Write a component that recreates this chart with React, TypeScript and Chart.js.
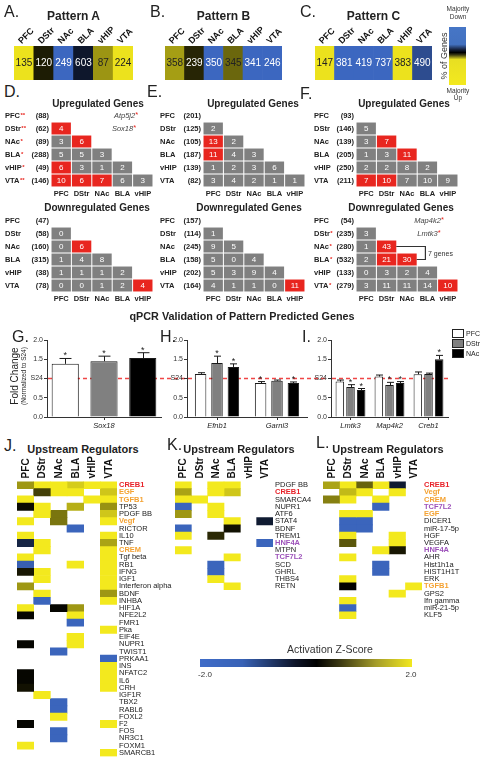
import React, { useEffect, useRef } from 'react';
import { Chart, registerables } from 'chart.js';

Chart.register(...registerables);
const FONT = "'Liberation Sans', Arimo, Arial, Helvetica, sans-serif";
Chart.defaults.font.family = FONT;

// ================= DATA =================
const REGIONS = ['PFC', 'DStr', 'NAc', 'BLA', 'vHIP', 'VTA'];
const PAIR_COLS = ['PFC', 'DStr', 'NAc', 'BLA', 'vHIP'];

// Pattern strips: number of genes and net direction (-1 majority down, +1 majority up)
const PATTERN_A_GENES = [135, 120, 249, 603, 87, 224];
const PATTERN_A_DIR = [0.97, 0.12, -0.97, -0.22, 0.64, 0.97];
const PATTERN_B_GENES = [358, 239, 350, 345, 341, 246];
const PATTERN_B_DIR = [0.68, 0.16, -0.97, 0.44, -0.97, -0.97];
const PATTERN_C_GENES = [147, 381, 419, 737, 383, 490];
const PATTERN_C_DIR = [0.97, -0.97, -0.97, -0.97, 0.97, -0.72];

// Pairwise overlaps (lower triangle; row k = region k+1 vs PFC..)
const NO_STARS = [0, 0, 0, 0, 0, 0];
const D_UP_TOTAL = [88, 62, 89, 288, 49, 146];
const D_UP_STARS = [2, 2, 1, 1, 1, 2];
const D_UP_SHARED = [[4], [3, 6], [5, 5, 3], [6, 3, 1, 2], [10, 6, 7, 6, 3]];
const D_UP_SIG = [[1], [0, 1], [0, 0, 0], [1, 0, 0, 0], [1, 1, 1, 0, 0]];
const D_DOWN_TOTAL = [47, 58, 160, 315, 38, 78];
const D_DOWN_SHARED = [[0], [0, 6], [1, 4, 8], [1, 1, 1, 2], [0, 0, 1, 2, 4]];
const D_DOWN_SIG = [[0], [0, 1], [0, 0, 0], [0, 0, 0, 0], [0, 0, 0, 0, 1]];

const E_UP_TOTAL = [201, 125, 105, 187, 139, 82];
const E_UP_SHARED = [[2], [13, 2], [11, 4, 3], [1, 2, 3, 6], [3, 4, 2, 1, 1]];
const E_UP_SIG = [[0], [1, 0], [1, 0, 0], [0, 0, 0, 0], [0, 0, 0, 0, 0]];
const E_DOWN_TOTAL = [157, 114, 245, 158, 202, 164];
const E_DOWN_SHARED = [[1], [9, 5], [5, 0, 4], [5, 3, 9, 4], [4, 1, 1, 0, 11]];
const E_DOWN_SIG = [[0], [0, 0], [0, 0, 0], [0, 0, 0, 0], [0, 0, 0, 0, 1]];

const F_UP_TOTAL = [93, 146, 139, 205, 250, 211];
const F_UP_SHARED = [[5], [3, 7], [1, 3, 11], [2, 2, 8, 2], [7, 10, 7, 10, 9]];
const F_UP_SIG = [[0], [0, 1], [0, 0, 1], [0, 0, 0, 0], [1, 1, 0, 0, 0]];
const F_DOWN_TOTAL = [54, 235, 280, 532, 133, 279];
const F_DOWN_STARS = [0, 1, 1, 1, 0, 1];
const F_DOWN_SHARED = [[3], [1, 43], [2, 21, 30], [0, 3, 2, 4], [3, 11, 11, 14, 10]];
const F_DOWN_SIG = [[0], [0, 1], [0, 1, 1], [0, 0, 0, 0], [0, 0, 0, 0, 1]];

// qPCR fold changes (mean, SEM, significance) per region [PFC, DStr, NAc]
const QPCR_REGIONS = ['PFC', 'DStr', 'NAc'];
const G_GENES = ['Sox18'];
const G_MEAN = [[1.38], [1.45], [1.53]];
const G_SEM = [[0.14], [0.13], [0.14]];
const G_SIG = [[1], [1], [1]];
const H_GENES = ['Efnb1', 'Garnl3'];
const H_MEAN = [[1.12, 0.88], [1.40, 0.94], [1.30, 0.88]];
const H_SEM = [[0.03, 0.04], [0.18, 0.02], [0.08, 0.03]];
const H_SIG = [[0, 1], [1, 0], [1, 1]];
const I_GENES = ['Lmtk3', 'Map4k2', 'Creb1'];
const I_MEAN = [[0.92, 1.05, 1.11], [0.78, 0.83, 1.12], [0.70, 0.88, 1.50]];
const I_SEM = [[0.04, 0.04, 0.06], [0.06, 0.07, 0.02], [0.04, 0.04, 0.10]];
const I_SIG = [[0, 0, 0], [1, 1, 0], [1, 1, 1]];

// Upstream regulators: activation z-scores [PFC, DStr, NAc, BLA, vHIP, VTA]
const J_ROWS = ['CREB1', 'EGF', 'TGFB1', 'TP53', 'PDGF BB', 'Vegf', 'RICTOR', 'IL10', 'TNF', 'CREM', 'Tgf beta', 'RB1', 'IFNG', 'IGF1', 'Interferon alpha', 'BDNF', 'INHBA', 'HIF1A', 'NFE2L2', 'FMR1', 'Pka', 'EIF4E', 'NUPR1', 'TWIST1', 'PRKAA1', 'INS', 'NFATC2', 'IL6', 'CRH', 'IGF1R', 'TBX2', 'RABL6', 'FOXL2', 'F2', 'FOS', 'NR3C1', 'FOXM1', 'SMARCB1'];
const _ = null;
const J_Z = [
  [1.3, 2, 2, 1.75, 2, 2],
  [_, 0.55, 2, 2, _, 1.7],
  [2, _, _, _, 2, 2],
  [0.1, 2, _, 1.5, _, 1.25],
  [_, 2, 1.0, _, _, 1.7],
  [2, _, 1.0, _, _, 2],
  [_, _, _, -1.9, _, _],
  [2, _, _, _, _, 2],
  [-0.7, 2, _, _, _, 1.4],
  [_, 2, _, _, _, 2],
  [2, _, _, _, _, 2],
  [-1.8, _, _, 2, _, 2],
  [0.2, 2, _, _, _, 2],
  [_, 2, _, _, _, 2],
  [1.3, _, _, _, _, 2],
  [_, 2, _, _, _, 1.3],
  [_, -1.9, _, _, _, 2],
  [2, _, 0.05, 1.3, _, _],
  [0.05, _, _, 2, _, _],
  [_, _, _, -1.9, _, _],
  [_, _, _, _, _, 2],
  [_, _, _, 2, _, _],
  [0.05, _, _, 2, _, _],
  [_, _, -1.9, _, _, _],
  [_, _, _, _, _, -1.9],
  [_, _, _, _, _, 2],
  [0.05, _, _, _, _, 2],
  [0.05, _, _, _, _, 2],
  [0.15, _, _, _, _, 2],
  [_, 2, _, _, _, _],
  [_, _, -1.9, _, _, _],
  [_, _, -1.9, _, _, _],
  [_, _, 2, _, _, _],
  [0.05, _, _, _, _, 2],
  [_, _, -1.9, _, _, _],
  [_, _, -1.9, _, _, _],
  [2, _, _, _, _, _],
  [_, _, _, _, _, 2],
];
const K_ROWS = ['PDGF BB', 'CREB1', 'SMARCA4', 'NUPR1', 'ATF6', 'STAT4', 'BDNF', 'TREM1', 'HNF4A', 'MTPN', 'TCF7L2', 'SCD', 'GHRL', 'THBS4', 'RETN'];
const K_Z = [
  [2, _, 2, 2, _, _],
  [1.4, _, 2, 1.7, _, _],
  [2, 2, _, _, _, _],
  [-1.9, _, 2, _, _, _],
  [1.3, _, 2, _, _, _],
  [_, _, _, 2, _, -0.5],
  [-1.9, _, _, 0.15, _, _],
  [2, _, 0.35, _, _, _],
  [_, _, _, _, _, -1.9],
  [2, _, _, _, _, _],
  [_, _, _, 2, _, _],
  [_, _, -1.9, _, _, _],
  [_, _, -1.9, _, _, _],
  [_, _, 2, _, _, _],
  [_, _, _, 2, _, _],
];
const L_ROWS = ['CREB1', 'Vegf', 'CREM', 'TCF7L2', 'EGF', 'DICER1', 'miR-17-5p', 'HGF', 'VEGFA', 'HNF4A', 'AHR', 'Hist1h1a', 'HIST1H1T', 'ERK', 'TGFB1', 'GPS2', 'Ifn gamma', 'miR-21-5p', 'KLF5'];
const L_Z = [
  [1.4, 2, 0.85, 2, -0.5, _],
  [_, 1.6, 2, _, 2, _],
  [1.1, 2, _, 2, _, _],
  [_, _, _, -1.9, _, _],
  [_, 2, 2, _, _, _],
  [_, -1.9, -1.9, _, _, _],
  [_, -1.9, -1.9, _, _, _],
  [_, 2, _, _, 2, _],
  [_, 0.75, _, _, 2, _],
  [_, _, _, 2, 0.2, _],
  [_, 2, _, _, _, _],
  [_, _, _, -1.9, _, _],
  [_, _, _, -1.9, _, _],
  [_, 2, _, _, _, _],
  [_, 0.02, _, _, _, 2],
  [_, _, _, _, 2, _],
  [_, 2, _, _, _, _],
  [_, -1.9, _, _, _, _],
  [_, 2, _, _, _, _],
];
const RED_LABELS = ['CREB1'];
const ORANGE_LABELS = ['EGF', 'TGFB1', 'Vegf', 'CREM'];
const PURPLE_LABELS = ['HNF4A', 'TCF7L2'];

// ================= STYLE HELPERS =================
const RED = '#e8261f';
const GRAY = '#808080';
const BLUE = [62, 106, 198];
const YELLOW = [243, 233, 30];
function zColor(z: number) {
  const t = Math.max(-1, Math.min(1, z / 2));
  const c = t >= 0 ? YELLOW : BLUE;
  const k = Math.abs(t);
  return `rgb(${Math.round(c[0] * k)},${Math.round(c[1] * k)},${Math.round(c[2] * k)})`;
}
function labelColor(l: string) {
  if (RED_LABELS.includes(l)) return '#e8232a';
  if (ORANGE_LABELS.includes(l)) return '#f4a232';
  if (PURPLE_LABELS.includes(l)) return '#9d52ba';
  return '#222';
}
const zeroPad = (s: any) => { s.paddingLeft = 0; s.paddingRight = 0; s.paddingTop = 0; s.paddingBottom = 0; };
const fixH = (h: number) => (s: any) => { s.height = h; zeroPad(s); };
const fixW = (w: number) => (s: any) => { s.width = w; zeroPad(s); };
const baseOptions = () => ({
  responsive: false, animation: false, events: [], devicePixelRatio: 1,
  plugins: { legend: { display: false }, tooltip: { enabled: false }, title: { display: false } },
});

const cellTextPlugin = (size: number) => ({
  id: 'cellText',
  afterDatasetsDraw(chart: any) {
    const ctx = chart.ctx;
    ctx.save();
    ctx.font = `${size}px ${FONT}`;
    ctx.textAlign = 'center';
    ctx.textBaseline = 'middle';
    chart.data.datasets.forEach((ds: any, di: number) => {
      const meta = chart.getDatasetMeta(di);
      meta.data.forEach((el: any, i: number) => {
        const t = ds.cellText ? ds.cellText[i] : undefined;
        if (t === undefined || t === null || ds.data[i] == null) return;
        ctx.fillStyle = ds.cellTextColor[i];
        ctx.fillText(String(t), el.x, (el.y + el.base) / 2 + 0.5);
      });
    });
    ctx.restore();
  },
});

// rotated column labels drawn at the category/column centres of the x scale
const colLabelPlugin = (size: number, angleDeg: number, dx: number, gap: number, centered: boolean) => ({
  id: 'colLabels',
  afterDraw(chart: any) {
    const { ctx, chartArea } = chart;
    const xs = chart.scales.x;
    ctx.save();
    ctx.font = `bold ${size}px ${FONT}`;
    ctx.fillStyle = '#111';
    ctx.textAlign = 'left';
    ctx.textBaseline = 'middle';
    REGIONS.forEach((r, i) => {
      const px = xs.getPixelForValue(centered ? i + 0.5 : i);
      ctx.save();
      ctx.translate(px + dx, chartArea.top - gap);
      ctx.rotate((-angleDeg * Math.PI) / 180);
      ctx.fillText(r, 0, 0);
      ctx.restore();
    });
    ctx.restore();
  },
});

const rowLabelPlugin = (totals: number[], stars: number[], nameX: number) => ({
  id: 'rowLabels',
  afterDraw(chart: any) {
    const { ctx, chartArea } = chart;
    const y = chart.scales.y;
    ctx.save();
    ctx.textBaseline = 'middle';
    REGIONS.forEach((name, r) => {
      const yc = y.getPixelForValue(r + 0.5);
      ctx.font = `bold 7.5px ${FONT}`;
      ctx.fillStyle = '#222';
      ctx.textAlign = 'left';
      ctx.fillText(name, nameX, yc);
      const w = ctx.measureText(name).width;
      if (stars[r]) {
        ctx.fillStyle = RED;
        ctx.font = `bold 6px ${FONT}`;
        ctx.fillText('*'.repeat(stars[r]), nameX + w + 0.5, yc - 0.5);
      }
      ctx.font = `bold 7.5px ${FONT}`;
      ctx.fillStyle = '#222';
      ctx.textAlign = 'right';
      ctx.fillText(`(${totals[r]})`, chartArea.left - 2, yc);
    });
    ctx.restore();
  },
});

const bracketPlugin = {
  id: 'bracket',
  afterDatasetsDraw(chart: any) {
    const ctx = chart.ctx;
    const a = chart.getDatasetMeta(1).data[1];
    const b = chart.getDatasetMeta(2).data[2];
    const xr = chart.scales.x.getPixelForValue(3) - 2;
    const ya = (a.y + a.base) / 2;
    const yb = (b.y + b.base) / 2;
    ctx.save();
    ctx.strokeStyle = '#333';
    ctx.lineWidth = 1.2;
    ctx.beginPath();
    ctx.moveTo(a.x + a.width / 2, ya);
    ctx.lineTo(xr, ya);
    ctx.lineTo(xr, yb);
    ctx.lineTo(b.x + b.width / 2, yb);
    ctx.stroke();
    ctx.restore();
  },
};

const dashedPlugin = (extend: boolean) => ({
  id: 'refLine',
  beforeDatasetsDraw(chart: any) {
    const { ctx, chartArea } = chart;
    const y1 = chart.scales.y.getPixelForValue(1);
    ctx.save();
    ctx.strokeStyle = 'rgb(240, 70, 70)';
    ctx.lineWidth = 1.4;
    ctx.setLineDash([4, 3]);
    ctx.beginPath();
    ctx.moveTo(chartArea.left + 1, y1);
    ctx.lineTo(extend ? chart.width : chartArea.right, y1);
    ctx.stroke();
    ctx.restore();
  },
});

const errPlugin = (sems: number[][], sig: number[][]) => ({
  id: 'errBars',
  afterDatasetsDraw(chart: any) {
    const ctx = chart.ctx;
    const ys = chart.scales.y;
    ctx.save();
    ctx.strokeStyle = '#1a1a1a';
    ctx.fillStyle = '#1a1a1a';
    ctx.lineWidth = 1;
    ctx.font = `9px ${FONT}`;
    ctx.textAlign = 'center';
    ctx.textBaseline = 'alphabetic';
    chart.data.datasets.forEach((ds: any, di: number) => {
      chart.getDatasetMeta(di).data.forEach((el: any, i: number) => {
        const v = ds.data[i];
        const top = ys.getPixelForValue(v + sems[di][i]);
        const hw = Math.max(3.5, el.width * 0.22);
        const x = Math.round(el.x) + 0.5;
        ctx.beginPath();
        ctx.moveTo(x, el.y);
        ctx.lineTo(x, top);
        ctx.moveTo(x - hw, top);
        ctx.lineTo(x + hw, top);
        ctx.stroke();
        if (sig[di][i]) ctx.fillText('*', el.x, top);
      });
    });
    ctx.restore();
  },
});

// ================= CHART SPECS =================
type Spec = { key: string; x: number; y: number; w: number; h: number; make: () => any };

function stripSpec(key: string, areaL: number, areaR: number, genes: number[], dir: number[]): Spec {
  const padL = 10, padR = 26, top = 18, axisH = 28, bottom = 82, areaB = 80;
  return {
    key, x: areaL - padL, y: top, w: areaR - areaL + padL + padR, h: bottom - top,
    make: () => ({
      type: 'bar',
      data: {
        labels: REGIONS,
        datasets: [{
          data: genes.map(() => 1),
          backgroundColor: dir.map((s) => zColor(s * 2)),
          borderWidth: 0, barPercentage: 1, categoryPercentage: 1,
          cellText: genes, cellTextColor: dir.map((s) => (s > 0.3 ? '#222' : '#fff')),
        }],
      },
      options: {
        ...baseOptions(),
        layout: { padding: { left: padL, right: padR, top: 0, bottom: bottom - areaB } },
        scales: {
          x: {
            position: 'top', grid: { display: false, drawTicks: false }, border: { display: false },
            ticks: { display: false },
            afterFit: fixH(axisH),
          },
          y: { display: false, min: 0, max: 1 },
        },
      },
      plugins: [cellTextPlugin(10), colLabelPlugin(9, 45, -4, 3.5, false)],
    }),
  };
}

function triSpec(key: string, nameX: number, areaL: number, areaR: number, areaT: number,
  totals: number[], stars: number[], shared: number[][], sig: number[][], extra?: any, rightExtra = 12): Spec {
  const x0 = nameX - 2, padTop = 5, axisH = 12, padBottom = 2, rowH = 13;
  const right = areaR + rightExtra;
  return {
    key, x: x0, y: areaT - padTop, w: right - x0, h: 6 * rowH + padTop + axisH + padBottom,
    make: () => ({
      type: 'bar',
      data: {
        labels: PAIR_COLS,
        datasets: shared.map((row, k) => {
          const r = k + 1;
          return {
            data: PAIR_COLS.map((_c, c) => (c < r ? [r + 0.04, r + 0.96] : null)),
            backgroundColor: PAIR_COLS.map((_c, c) => (sig[k][c] ? RED : GRAY)),
            borderWidth: 0, barPercentage: 0.95, categoryPercentage: 1, grouped: false,
            cellText: row, cellTextColor: PAIR_COLS.map(() => '#fff'),
          };
        }),
      },
      options: {
        ...baseOptions(),
        layout: { padding: { left: areaL - x0, right: right - areaR, top: padTop, bottom: padBottom } },
        scales: {
          x: {
            grid: { display: false, drawTicks: false }, border: { display: false },
            ticks: { autoSkip: false, maxRotation: 0, padding: 2, color: '#222', font: { size: 7.5, weight: 'bold' } },
            afterFit: fixH(axisH),
          },
          y: { display: false, min: 0, max: 6, reverse: true },
        },
      },
      plugins: [cellTextPlugin(8), rowLabelPlugin(totals, stars, nameX - x0), ...(extra ? [extra] : [])],
    }),
  };
}

const QPCR_FILLS = ['#ffffff', '#808080', '#000000'];
function qpcrSpec(key: string, x: number, w: number, areaL: number, areaR: number, genes: string[],
  means: number[][], sems: number[][], sig: number[][], catPct: number, barPct: number, extend: boolean): Spec {
  const top = 330, h = 100, areaT = 340, areaB = 417, axisH = 13;
  return {
    key, x, y: top, w, h,
    make: () => ({
      type: 'bar',
      data: {
        labels: genes,
        datasets: QPCR_REGIONS.map((reg, ri) => ({
          label: reg, data: means[ri], backgroundColor: QPCR_FILLS[ri], borderColor: '#1a1a1a', borderWidth: 1,
          categoryPercentage: catPct, barPercentage: barPct,
        })),
      },
      options: {
        ...baseOptions(),
        layout: { padding: { left: 0, right: x + w - areaR, top: areaT - top, bottom: top + h - areaB - axisH } },
        scales: {
          x: {
            grid: { offset: false, drawOnChartArea: false, tickLength: 3, color: '#333' },
            border: { color: '#333' },
            ticks: { padding: 1, color: '#222', font: { size: 7.5, style: 'italic' } },
            afterFit: fixH(axisH),
          },
          y: {
            min: 0, max: 2,
            grid: { drawOnChartArea: false, tickLength: 3, color: '#333' },
            border: { color: '#333' },
            ticks: { stepSize: 0.5, padding: 1, color: '#333', font: { size: 7 }, callback: (v: any) => (Number(v) === 1 ? 'S24' : Number(v).toFixed(1)) },
            afterFit: fixW(areaL - x),
          },
        },
      },
      plugins: [dashedPlugin(extend), errPlugin(sems, sig)],
    }),
  };
}

function heatSpec(key: string, x: number, areaL: number, areaR: number, labelW: number, rows: string[], z: (number | null)[][]): Spec {
  const top = 455, axisH = 26.4, rowH = 7.24;
  const areaB = axisH + rows.length * rowH;
  const w = areaR + labelW - x;
  const h = Math.ceil(areaB + 3);
  return {
    key, x, y: top, w, h,
    make: () => ({
      type: 'bar',
      data: {
        labels: rows,
        datasets: REGIONS.map((_r, ci) => ({
          data: z.map((row) => (row[ci] == null ? null : [ci, ci + 1])),
          backgroundColor: z.map((row) => (row[ci] == null ? 'rgba(0,0,0,0)' : zColor(row[ci] as number))),
          borderWidth: 0, barPercentage: 1, categoryPercentage: 1, grouped: false,
        })),
      },
      options: {
        ...baseOptions(),
        indexAxis: 'y',
        layout: { padding: { left: areaL - x, right: 0, top: 0, bottom: h - areaB } },
        scales: {
          x: {
            type: 'linear', position: 'top', min: 0, max: 6,
            grid: { display: false, drawTicks: false }, border: { display: false },
            ticks: { display: false },
            afterFit: fixH(axisH),
          },
          y: {
            type: 'category', position: 'right', offset: true,
            grid: { display: false, drawTicks: false }, border: { display: false },
            ticks: {
              autoSkip: false, padding: 2,
              color: (c: any) => labelColor(rows[c.index]),
              font: (c: any) => ({ size: 7.5, weight: labelColor(rows[c.index]) === '#222' ? 'normal' : 'bold' }),
            },
            afterFit: fixW(labelW),
          },
        },
      },
      plugins: [colLabelPlugin(10, 90, 0.5, 3, true)],
    }),
  };
}

const SPECS: Spec[] = [
  stripSpec('A', 14, 133, PATTERN_A_GENES, PATTERN_A_DIR),
  stripSpec('B', 165, 282, PATTERN_B_GENES, PATTERN_B_DIR),
  stripSpec('C', 315, 432, PATTERN_C_GENES, PATTERN_C_DIR),
  triSpec('Dup', 5, 51, 153, 109, D_UP_TOTAL, D_UP_STARS, D_UP_SHARED, D_UP_SIG),
  triSpec('Ddown', 5, 51, 153, 214, D_DOWN_TOTAL, NO_STARS, D_DOWN_SHARED, D_DOWN_SIG),
  triSpec('Eup', 160, 203, 305, 109, E_UP_TOTAL, NO_STARS, E_UP_SHARED, E_UP_SIG),
  triSpec('Edown', 160, 203, 305, 214, E_DOWN_TOTAL, NO_STARS, E_DOWN_SHARED, E_DOWN_SIG),
  triSpec('Fup', 314, 356, 458, 109, F_UP_TOTAL, NO_STARS, F_UP_SHARED, F_UP_SIG),
  triSpec('Fdown', 314, 356, 458, 214, F_DOWN_TOTAL, F_DOWN_STARS, F_DOWN_SHARED, F_DOWN_SIG, bracketPlugin),
  qpcrSpec('G', 0, 185, 47, 161, G_GENES, G_MEAN, G_SEM, G_SIG, 1.02, 0.7, true),
  qpcrSpec('H', 160, 165, 187, 307, H_GENES, H_MEAN, H_SEM, H_SIG, 0.82, 0.7, true),
  qpcrSpec('I', 305, 145, 331, 448, I_GENES, I_MEAN, I_SEM, I_SIG, 0.82, 0.8, false),
  heatSpec('J', 2, 17, 117, 63, J_ROWS, J_Z),
  heatSpec('K', 170, 175, 273, 45, K_ROWS, K_Z),
  heatSpec('L', 318, 323, 422, 60, L_ROWS, L_Z),
];

// ================= COMPONENTS =================
function ChartCanvas({ spec }: { spec: Spec }) {
  const ref = useRef<HTMLCanvasElement | null>(null);
  useEffect(() => {
    const chart = new Chart(ref.current as HTMLCanvasElement, spec.make());
    return () => chart.destroy();
  }, [spec]);
  return (
    <canvas ref={ref} width={spec.w} height={spec.h}
      style={{ position: 'absolute', left: spec.x, top: spec.y, width: spec.w, height: spec.h, display: 'block' }} />
  );
}

function Txt({ x, y, s = 10, b = false, i = false, c = '#222', a = 'left', children }: any) {
  const tx = a === 'center' ? '-50%' : a === 'right' ? '-100%' : '0';
  return (
    <div style={{
      position: 'absolute', left: x, top: y - 0.8465 * s, fontSize: s, lineHeight: `${s}px`,
      fontWeight: b ? 'bold' : 'normal', fontStyle: i ? 'italic' : 'normal', color: c,
      whiteSpace: 'nowrap', transform: `translateX(${tx})`, fontFamily: FONT,
    }}>{children}</div>
  );
}

function RotTxt({ cx, cy, s = 10, c = '#222', children }: any) {
  return (
    <div style={{
      position: 'absolute', left: cx, top: cy, fontSize: s, lineHeight: `${s}px`, color: c,
      whiteSpace: 'nowrap', transform: 'translate(-50%, -50%) rotate(-90deg)', fontFamily: FONT,
    }}>{children}</div>
  );
}

const Star = () => <span style={{ color: RED, position: 'relative', top: -1, fontStyle: 'normal' }}>*</span>;

export default function App() {
  return (
    <div style={{ position: 'absolute', left: 0, top: 0, width: 484, height: 762, background: '#fff', overflow: 'hidden', fontFamily: FONT }}>
      {SPECS.map((s) => <ChartCanvas key={s.key} spec={s} />)}

      {/* panel letters */}
      <Txt x={4} y={18} s={16}>A.</Txt>
      <Txt x={150} y={18} s={16}>B.</Txt>
      <Txt x={300} y={18} s={16}>C.</Txt>
      <Txt x={4} y={98} s={16}>D.</Txt>
      <Txt x={147} y={98} s={16}>E.</Txt>
      <Txt x={300} y={100} s={16}>F.</Txt>
      <Txt x={12} y={343} s={16}>G.</Txt>
      <Txt x={160} y={343} s={16}>H.</Txt>
      <Txt x={302} y={343} s={16}>I.</Txt>
      <Txt x={4} y={452} s={16}>J.</Txt>
      <Txt x={167} y={451} s={16}>K.</Txt>
      <Txt x={316} y={449} s={16}>L.</Txt>

      {/* pattern titles */}
      <Txt x={73.5} y={20} s={12} b a="center">Pattern A</Txt>
      <Txt x={223.5} y={20} s={12} b a="center">Pattern B</Txt>
      <Txt x={373.5} y={20} s={12} b a="center">Pattern C</Txt>

      {/* direction colour bar */}
      <Txt x={458} y={12} s={6.5} a="center" c="#333">Majority</Txt>
      <Txt x={458} y={19.5} s={6.5} a="center" c="#333">Down</Txt>
      <div style={{
        position: 'absolute', left: 449, top: 27, width: 17, height: 58,
        background: 'linear-gradient(to bottom, #4676c6 0%, #4371c0 30%, #16213c 39%, #000 44%, #3a3812 48%, #e8df22 56%, #f3e91f 100%)',
      }} />
      <Txt x={458} y={93.5} s={6.5} a="center" c="#333">Majority</Txt>
      <Txt x={458} y={100.5} s={6.5} a="center" c="#333">Up</Txt>
      <RotTxt cx={443.5} cy={56} s={9} c="#333">% of Genes</RotTxt>

      {/* triangle titles */}
      <Txt x={98} y={107.5} s={10} b a="center">Upregulated Genes</Txt>
      <Txt x={253} y={107.5} s={10} b a="center">Upregulated Genes</Txt>
      <Txt x={404} y={107.5} s={10} b a="center">Upregulated Genes</Txt>
      <Txt x={97} y={211.5} s={10} b a="center">Downregulated Genes</Txt>
      <Txt x={249} y={211.5} s={10} b a="center">Downregulated Genes</Txt>
      <Txt x={401} y={211.5} s={10} b a="center">Downregulated Genes</Txt>

      {/* gene annotations */}
      <Txt x={126} y={118} s={7.5} i c="#444" a="center">Atp5j2<Star /></Txt>
      <Txt x={124} y={131} s={7.5} i c="#444" a="center">Sox18<Star /></Txt>
      <Txt x={429} y={223} s={7.5} i c="#444" a="center">Map4k2<Star /></Txt>
      <Txt x={429} y={236} s={7.5} i c="#444" a="center">Lmtk3<Star /></Txt>
      <Txt x={428} y={256} s={7} c="#333">7 genes</Txt>

      {/* qPCR */}
      <Txt x={242} y={320.5} s={10.8} b a="center">qPCR Validation of Pattern Predicted Genes</Txt>
      <RotTxt cx={15} cy={376} s={10} c="#222">Fold Change</RotTxt>
      <RotTxt cx={23.5} cy={376} s={6.5} c="#222">(Normalized to S24)</RotTxt>
      {QPCR_REGIONS.map((r, k) => (
        <React.Fragment key={r}>
          <div style={{ position: 'absolute', left: 452, top: 329 + k * 10, width: 10, height: 7, background: QPCR_FILLS[k], border: '1px solid #222' }} />
          <Txt x={466} y={336 + k * 10} s={7} c="#222">{r}</Txt>
        </React.Fragment>
      ))}

      {/* upstream regulators */}
      <Txt x={83} y={453} s={11} b a="center">Upstream Regulators</Txt>
      <Txt x={239} y={453} s={11} b a="center">Upstream Regulators</Txt>
      <Txt x={388} y={453} s={11} b a="center">Upstream Regulators</Txt>

      {/* z-score colour bar */}
      <Txt x={330} y={653} s={10.5} a="center" c="#333">Activation Z-Score</Txt>
      <div style={{
        position: 'absolute', left: 200, top: 659, width: 212, height: 8,
        background: 'linear-gradient(to right, #3f6cc8 0%, #3862b6 20%, #0d1428 45%, #000 55%, #3b3812 66%, #a49c2a 83%, #f2e81f 100%)',
      }} />
      <Txt x={205} y={678} s={8} a="center" c="#333">-2.0</Txt>
      <Txt x={411} y={678} s={8} a="center" c="#333">2.0</Txt>
    </div>
  );
}
